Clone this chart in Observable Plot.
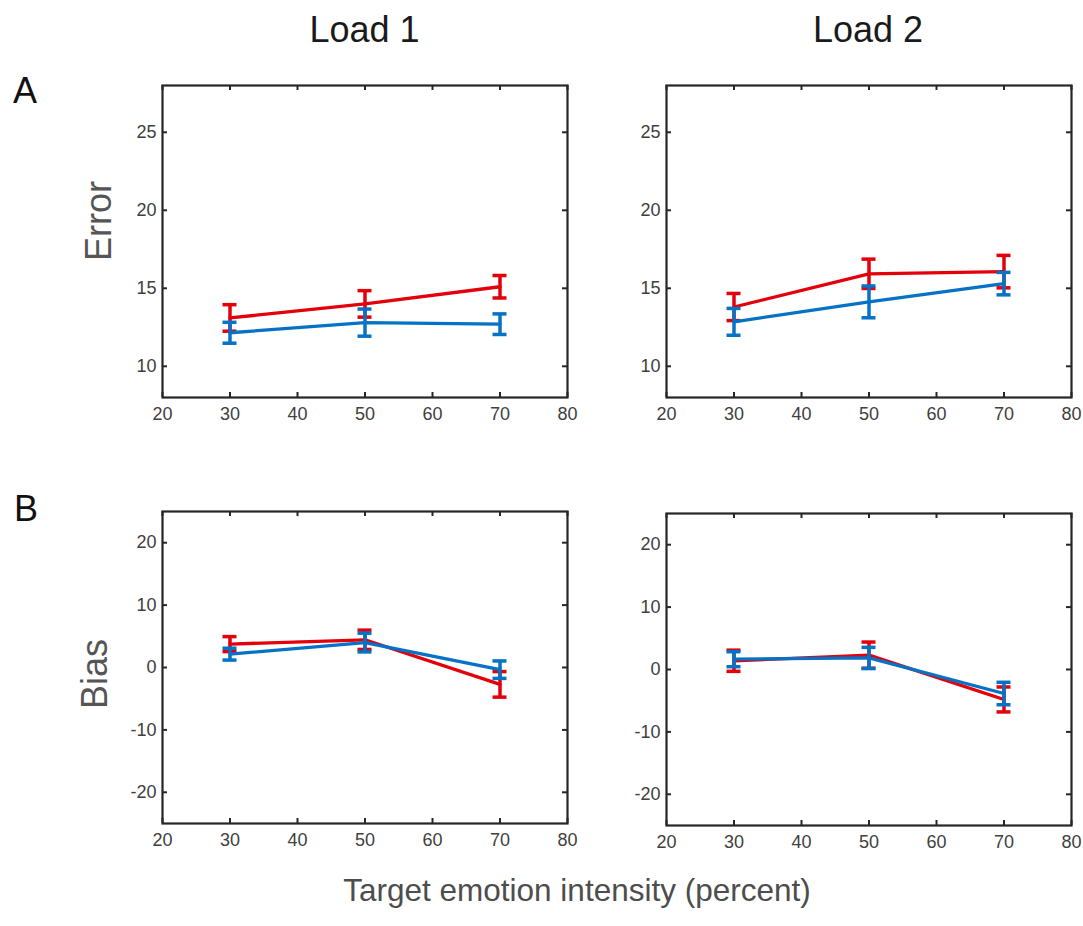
<!DOCTYPE html>
<html>
<head>
<meta charset="utf-8">
<script src="https://cdn.jsdelivr.net/npm/d3@7"></script>
<script src="https://cdn.jsdelivr.net/npm/@observablehq/plot@0.6"></script>
<style>
  body { margin: 0; background: #fff; }
  #fig { position: relative; width: 1083px; height: 926px; font-family: "Liberation Sans", Arial, sans-serif; }
  #fig svg { position: absolute; overflow: visible; }
</style>
</head>
<body>
<div id="fig"></div>
<script>
// Target emotion intensity levels (percent)
const intensity = [30, 50, 70];

// Error, Load 1
const errLoad1RedMean = [13.1, 14.0, 15.1];
const errLoad1RedSe   = [0.85, 0.85, 0.72];
const errLoad1BlueMean = [12.15, 12.8, 12.7];
const errLoad1BlueSe   = [0.67, 0.87, 0.66];

// Error, Load 2
const errLoad2RedMean = [13.8, 15.93, 16.07];
const errLoad2RedSe   = [0.87, 0.94, 1.04];
const errLoad2BlueMean = [12.85, 14.13, 15.3];
const errLoad2BlueSe   = [0.86, 1.02, 0.72];

// Bias, Load 1
const biasLoad1RedMean = [3.75, 4.44, -2.7];
const biasLoad1RedSe   = [1.2, 1.55, 2.05];
const biasLoad1BlueMean = [2.14, 4.0, -0.35];
const biasLoad1BlueSe   = [0.95, 1.5, 1.4];

// Bias, Load 2
const biasLoad2RedMean = [1.4, 2.3, -4.8];
const biasLoad2RedSe   = [1.7, 2.1, 2.0];
const biasLoad2BlueMean = [1.65, 1.85, -3.85];
const biasLoad2BlueSe   = [1.2, 1.7, 1.8];

// Axes
const xDomain = [20, 80];
const xTicks = [20, 30, 40, 50, 60, 70, 80];
const errorDomain = [8, 28];
const errorTicks = [10, 15, 20, 25];
const biasDomain = [-25, 25];
const biasTicks = [-20, -10, 0, 10, 20];

// Text
const columnTitles = ["Load 1", "Load 2"];
const rowLetters = ["A", "B"];
const rowLabels = ["Error", "Bias"];
const xLabel = "Target emotion intensity (percent)";

const RED = "#e3000b";
const BLUE = "#0572c6";
const FRAME = "#262626";
const TICKTEXT = "#404040";
const FONT = "'Liberation Sans', Arial, sans-serif";

const innerW = 405, innerH = 312;
const M = {left: 50, right: 15, top: 10, bottom: 40};

const fig = document.getElementById("fig");

// Overlay with titles, panel letters and axis names
const W = 1083, H = 926;
const overlay = d3.select(fig).append("svg")
  .attr("width", W).attr("height", H)
  .style("left", "0px").style("top", "0px")
  .attr("font-family", FONT);

overlay.append("text").attr("x", 364.5).attr("y", 42).attr("text-anchor", "middle")
  .attr("font-size", 36).attr("fill", "#1a1a1a").text(columnTitles[0]);
overlay.append("text").attr("x", 868).attr("y", 42).attr("text-anchor", "middle")
  .attr("font-size", 36).attr("fill", "#1a1a1a").text(columnTitles[1]);
overlay.append("text").attr("x", 13).attr("y", 103)
  .attr("font-size", 36).attr("fill", "#111").text(rowLetters[0]);
overlay.append("text").attr("x", 14).attr("y", 521)
  .attr("font-size", 36).attr("fill", "#111").text(rowLetters[1]);
overlay.append("text").attr("transform", "translate(110.5,221) rotate(-90)")
  .attr("text-anchor", "middle").attr("font-size", 36).attr("fill", "#555").text(rowLabels[0]);
overlay.append("text").attr("transform", "translate(106.5,674) rotate(-90)")
  .attr("text-anchor", "middle").attr("font-size", 36).attr("fill", "#555").text(rowLabels[1]);
overlay.append("text").attr("x", 577).attr("y", 901).attr("text-anchor", "middle")
  .attr("font-size", 31.5).attr("fill", "#4d4d4d").text(xLabel);

function rowsOf(mean, se) {
  return intensity.map((x, i) => ({x, y: mean[i], lo: mean[i] - se[i], hi: mean[i] + se[i]}));
}

function seriesMarks(rows, color) {
  return [
    Plot.line(rows, {x: "x", y: "y", stroke: color, strokeWidth: 3.3}),
    Plot.ruleX(rows, {x: "x", y1: "lo", y2: "hi", stroke: color, strokeWidth: 3.5}),
    Plot.ruleY(rows, {y: "lo", x1: "x", x2: "x", insetLeft: -7, insetRight: -7, stroke: color, strokeWidth: 3.5}),
    Plot.ruleY(rows, {y: "hi", x1: "x", x2: "x", insetLeft: -7, insetRight: -7, stroke: color, strokeWidth: 3.5})
  ];
}

// plain hyphen for negative tick labels
const fmt = d => String(d);

function panel(redRows, blueRows, yDomain, yTicks, frameLeft, frameTop) {
  const svg = Plot.plot({
    width: innerW + M.left + M.right,
    height: innerH + M.top + M.bottom,
    marginLeft: M.left, marginRight: M.right, marginTop: M.top, marginBottom: M.bottom,
    style: {fontFamily: FONT, fontSize: "18px", background: "transparent", overflow: "visible"},
    x: {domain: xDomain},
    y: {domain: yDomain},
    marks: [
      // inward tick marks on all four sides
      Plot.ruleX(xTicks, {stroke: FRAME, strokeWidth: 2, insetTop: innerH - 5}),
      Plot.ruleX(xTicks, {stroke: FRAME, strokeWidth: 2, insetBottom: innerH - 5}),
      Plot.ruleY(yTicks, {stroke: FRAME, strokeWidth: 2, insetRight: innerW - 5}),
      Plot.ruleY(yTicks, {stroke: FRAME, strokeWidth: 2, insetLeft: innerW - 5}),
      ...seriesMarks(redRows, RED),
      ...seriesMarks(blueRows, BLUE),
      Plot.frame({stroke: FRAME, strokeWidth: 2.2}),
      Plot.axisX({ticks: xTicks, tickFormat: fmt, tickSize: 0, tickPadding: 10, label: null, fill: TICKTEXT, fontSize: 18}),
      Plot.axisY({ticks: yTicks, tickFormat: fmt, tickSize: 0, tickPadding: 6, label: null, fill: TICKTEXT, fontSize: 18})
    ]
  });
  svg.style.left = (frameLeft - M.left) + "px";
  svg.style.top = (frameTop - M.top) + "px";
  fig.appendChild(svg);
}

panel(rowsOf(errLoad1RedMean, errLoad1RedSe), rowsOf(errLoad1BlueMean, errLoad1BlueSe), errorDomain, errorTicks, 162, 85);
panel(rowsOf(errLoad2RedMean, errLoad2RedSe), rowsOf(errLoad2BlueMean, errLoad2BlueSe), errorDomain, errorTicks, 665.5, 84.5);
panel(rowsOf(biasLoad1RedMean, biasLoad1RedSe), rowsOf(biasLoad1BlueMean, biasLoad1BlueSe), biasDomain, biasTicks, 162, 511);
panel(rowsOf(biasLoad2RedMean, biasLoad2RedSe), rowsOf(biasLoad2BlueMean, biasLoad2BlueSe), biasDomain, biasTicks, 666, 513);
</script>
</body>
</html>
